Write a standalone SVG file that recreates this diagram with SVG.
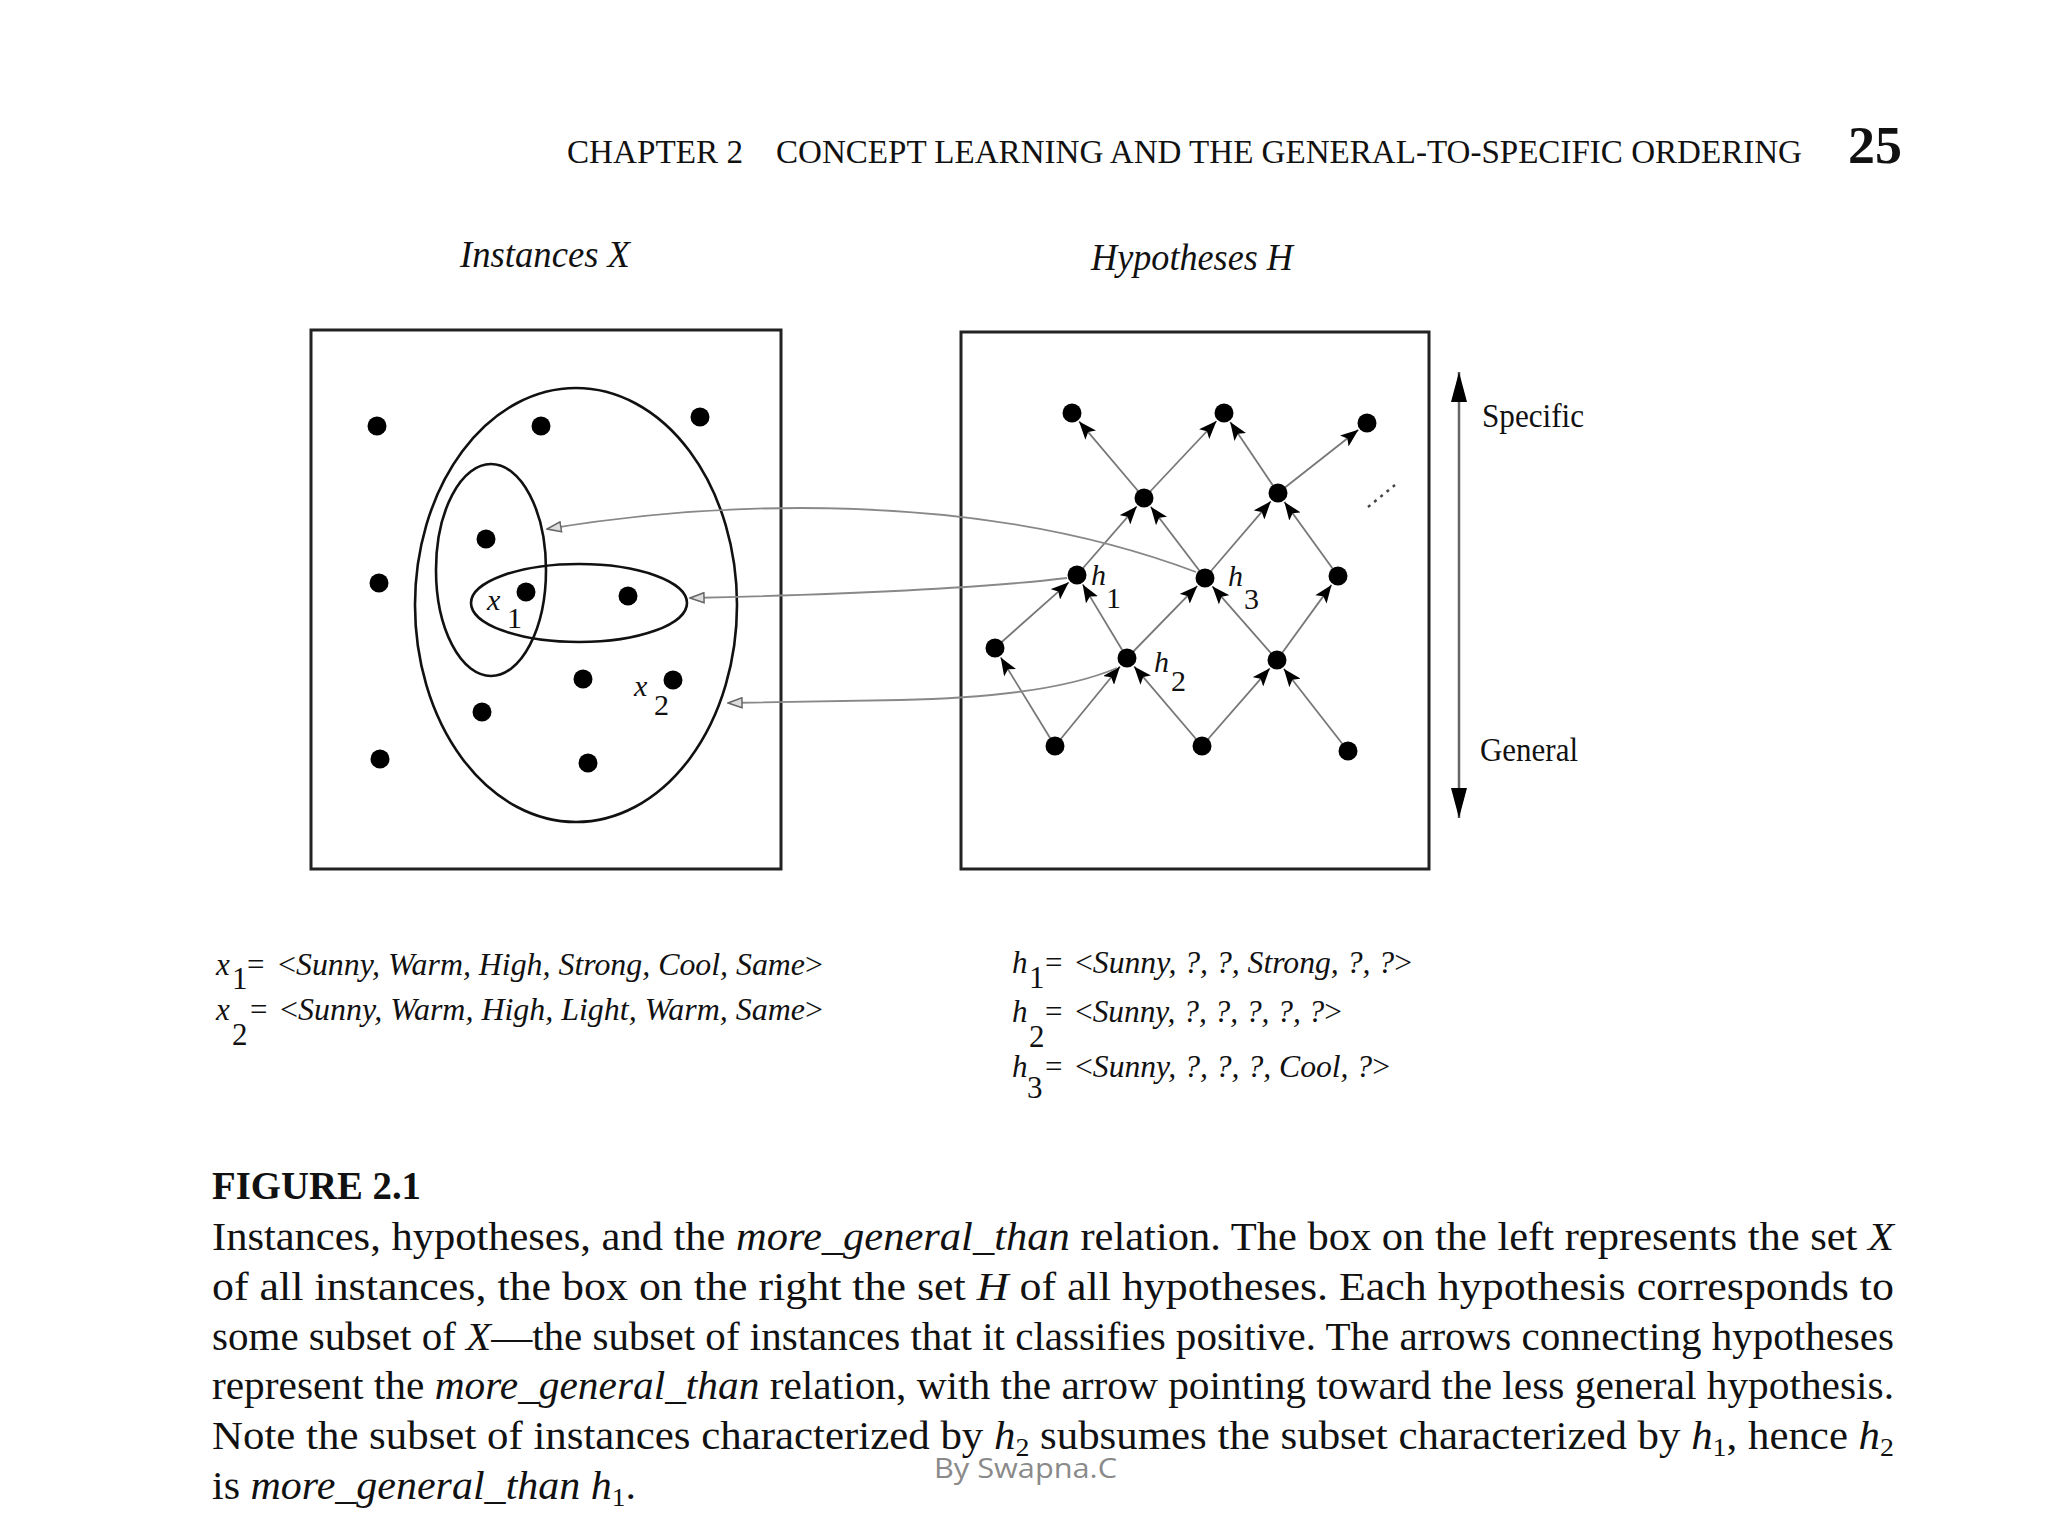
<svg xmlns="http://www.w3.org/2000/svg" width="2048" height="1536" viewBox="0 0 2048 1536">
<style>
.serif{font-family:"Liberation Serif","Times New Roman",serif;fill:#111}
.it{font-style:italic}
.box{fill:none;stroke:#222;stroke-width:3}
.ell{fill:none;stroke:#111;stroke-width:2.6}
.dot{fill:#000}
.edge{stroke:#777;stroke-width:1.8;fill:none;marker-end:url(#ah)}
.conn{stroke:#888;stroke-width:1.8;fill:none;marker-end:url(#cah)}
.lbl{font-family:"Liberation Serif","Times New Roman",serif;font-size:30px;fill:#111}
.def{font-family:"Liberation Serif","Times New Roman",serif;font-size:31px;fill:#111}
.cap{font-family:"Liberation Serif","Times New Roman",serif;font-size:40px;fill:#111}
</style>
<defs>
<marker id="ah" markerUnits="userSpaceOnUse" markerWidth="18" markerHeight="14" viewBox="0 0 18 14" refX="18" refY="7" orient="auto"><path d="M0,0 L18,7 L0,14 L4,7 z" fill="#000"/></marker>
<marker id="cah" markerUnits="userSpaceOnUse" markerWidth="16" markerHeight="12" viewBox="0 0 16 12" refX="15" refY="6" orient="auto"><path d="M1,1 L15,6 L1,11 z" fill="#ddd" stroke="#666" stroke-width="1.5"/></marker>
<marker id="vah" markerUnits="userSpaceOnUse" markerWidth="30" markerHeight="16" viewBox="0 0 30 16" refX="30" refY="8" orient="auto-start-reverse"><path d="M0,0 L30,8 L0,16 z" fill="#000"/></marker>
</defs>
<rect width="2048" height="1536" fill="#fff"/>

<g id="header">
<text class="serif" x="567" y="163" font-size="33" textLength="176" lengthAdjust="spacingAndGlyphs">CHAPTER 2</text>
<text class="serif" x="776" y="163" font-size="33" textLength="1026" lengthAdjust="spacingAndGlyphs">CONCEPT LEARNING AND THE GENERAL-TO-SPECIFIC ORDERING</text>
<text class="serif" x="1848" y="163" font-size="52" font-weight="bold" textLength="54" lengthAdjust="spacingAndGlyphs">25</text>
</g>

<g id="titles">
<text class="serif it" x="460" y="267" font-size="37" textLength="170" lengthAdjust="spacingAndGlyphs">Instances X</text>
<text class="serif it" x="1091" y="270" font-size="37" textLength="202" lengthAdjust="spacingAndGlyphs">Hypotheses H</text>
</g>

<g id="instances">
<rect class="box" x="311" y="330" width="470" height="539"/>
<ellipse id="set-h2" class="ell" cx="576" cy="605" rx="161" ry="217"/>
<ellipse id="set-h1" class="ell" cx="491" cy="570" rx="55" ry="106"/>
<ellipse id="set-h3" class="ell" cx="579" cy="603" rx="108" ry="39"/>
<g id="instance-dots">
<circle class="dot" cx="377" cy="426" r="9.5"/>
<circle class="dot" cx="541" cy="426" r="9.5"/>
<circle class="dot" cx="700" cy="417" r="9.5"/>
<circle class="dot" cx="379" cy="583" r="9.5"/>
<circle class="dot" cx="486" cy="539" r="9.5"/>
<circle class="dot" cx="628" cy="596" r="9.5"/>
<circle class="dot" cx="583" cy="679" r="9.5"/>
<circle class="dot" cx="482" cy="712" r="9.5"/>
<circle class="dot" cx="380" cy="759" r="9.5"/>
<circle class="dot" cx="588" cy="763" r="9.5"/>
</g>
<g id="x1"><circle class="dot" cx="526" cy="592" r="9.5"/><text class="lbl it" x="487" y="610" font-size="33">x</text><text class="lbl" x="507" y="628" font-size="28">1</text></g>
<g id="x2"><circle class="dot" cx="673" cy="680" r="9.5"/><text class="lbl it" x="634" y="696" font-size="33">x</text><text class="lbl" x="654" y="715" font-size="28">2</text></g>
</g>

<g id="hypotheses">
<rect class="box" x="961" y="332" width="468" height="537"/>
<path d="M1368,507 L1395,485" stroke="#444" stroke-width="2.5" stroke-dasharray="3,5" fill="none"/>
</g>

<g id="edges">
<line class="edge" x1="1144" y1="498" x2="1079.1" y2="421.4"/>
<line class="edge" x1="1144" y1="498" x2="1216.5" y2="421.0"/>
<line class="edge" x1="1278" y1="493" x2="1230.2" y2="422.1"/>
<line class="edge" x1="1278" y1="493" x2="1358.4" y2="429.8"/>
<line class="edge" x1="1077" y1="575" x2="1136.8" y2="506.3"/>
<line class="edge" x1="1205" y1="578" x2="1150.7" y2="506.7"/>
<line class="edge" x1="1205" y1="578" x2="1270.8" y2="501.3"/>
<line class="edge" x1="1338" y1="576" x2="1284.4" y2="501.9"/>
<line class="edge" x1="995" y1="648" x2="1068.8" y2="582.3"/>
<line class="edge" x1="1127" y1="658" x2="1082.7" y2="584.4"/>
<line class="edge" x1="1127" y1="658" x2="1197.3" y2="585.9"/>
<line class="edge" x1="1277" y1="660" x2="1212.3" y2="586.3"/>
<line class="edge" x1="1277" y1="660" x2="1331.5" y2="584.9"/>
<line class="edge" x1="1055" y1="746" x2="1000.7" y2="657.4"/>
<line class="edge" x1="1055" y1="746" x2="1120.0" y2="666.5"/>
<line class="edge" x1="1202" y1="746" x2="1134.1" y2="666.4"/>
<line class="edge" x1="1202" y1="746" x2="1269.8" y2="668.3"/>
<line class="edge" x1="1348" y1="751" x2="1283.8" y2="668.7"/>
</g>

<g id="connectors">
<path class="conn" d="M1196,572 C1090,532 960,508 800,508 C700,508 620,517 547,529"/>
<path class="conn" d="M1067,578 Q950,592 690,598"/>
<path class="conn" d="M1117,668 C1070,688 1000,698 900,700 L728,703"/>
</g>

<g id="node-a"><circle class="dot" cx="1072" cy="413" r="9.5"/></g>
<g id="node-b"><circle class="dot" cx="1224" cy="413" r="9.5"/></g>
<g id="node-c"><circle class="dot" cx="1367" cy="423" r="9.5"/></g>
<g id="node-d"><circle class="dot" cx="1144" cy="498" r="9.5"/></g>
<g id="node-e"><circle class="dot" cx="1278" cy="493" r="9.5"/></g>
<g id="node-h1"><circle class="dot" cx="1077" cy="575" r="9.5"/><text class="lbl it" x="1091" y="585" font-size="29">h</text><text class="lbl" x="1106" y="608" font-size="30">1</text></g>
<g id="node-h3"><circle class="dot" cx="1205" cy="578" r="9.5"/><text class="lbl it" x="1228" y="586" font-size="29">h</text><text class="lbl" x="1244" y="609" font-size="30">3</text></g>
<g id="node-h"><circle class="dot" cx="1338" cy="576" r="9.5"/></g>
<g id="node-i"><circle class="dot" cx="995" cy="648" r="9.5"/></g>
<g id="node-h2"><circle class="dot" cx="1127" cy="658" r="9.5"/><text class="lbl it" x="1154" y="672" font-size="29">h</text><text class="lbl" x="1171" y="691" font-size="30">2</text></g>
<g id="node-k"><circle class="dot" cx="1277" cy="660" r="9.5"/></g>
<g id="node-l"><circle class="dot" cx="1055" cy="746" r="9.5"/></g>
<g id="node-m"><circle class="dot" cx="1202" cy="746" r="9.5"/></g>
<g id="node-n"><circle class="dot" cx="1348" cy="751" r="9.5"/></g>

<g id="axis">
<line x1="1459" y1="372" x2="1459" y2="818" stroke="#666" stroke-width="2.5" marker-start="url(#vah)" marker-end="url(#vah)"/>
<text class="serif" x="1482" y="427" font-size="33" textLength="102" lengthAdjust="spacingAndGlyphs">Specific</text>
<text class="serif" x="1480" y="761" font-size="33" textLength="98" lengthAdjust="spacingAndGlyphs">General</text>
</g>

<g id="definitions">
<text class="def it" x="216" y="975">x</text><text class="def" x="232" y="989" font-size="28">1</text><text class="def" x="247" y="975">=</text>
<text class="def" x="278" y="975" textLength="545" lengthAdjust="spacingAndGlyphs">&lt;<tspan class="it">Sunny, Warm, High, Strong, Cool, Same</tspan>&gt;</text>
<text class="def it" x="216" y="1020">x</text><text class="def" x="232" y="1045" font-size="28">2</text><text class="def" x="250" y="1020">=</text>
<text class="def" x="280" y="1020" textLength="543" lengthAdjust="spacingAndGlyphs">&lt;<tspan class="it">Sunny, Warm, High, Light, Warm, Same</tspan>&gt;</text>

<text class="def it" x="1012" y="973">h</text><text class="def" x="1029" y="988" font-size="28">1</text><text class="def" x="1045" y="973">=</text>
<text class="def" x="1075" y="973" textLength="337" lengthAdjust="spacingAndGlyphs">&lt;<tspan class="it">Sunny, ?, ?, Strong, ?, ?</tspan>&gt;</text>
<text class="def it" x="1012" y="1022">h</text><text class="def" x="1029" y="1047" font-size="28">2</text><text class="def" x="1045" y="1022">=</text>
<text class="def" x="1075" y="1022" textLength="267" lengthAdjust="spacingAndGlyphs">&lt;<tspan class="it">Sunny, ?, ?, ?, ?, ?</tspan>&gt;</text>
<text class="def it" x="1012" y="1077">h</text><text class="def" x="1027" y="1098" font-size="28">3</text><text class="def" x="1045" y="1077">=</text>
<text class="def" x="1075" y="1077" textLength="315" lengthAdjust="spacingAndGlyphs">&lt;<tspan class="it">Sunny, ?, ?, ?, Cool, ?</tspan>&gt;</text>
</g>

<g id="caption">
<text class="cap" x="212" y="1199" font-weight="bold" textLength="209" lengthAdjust="spacingAndGlyphs">FIGURE 2.1</text>
<text class="cap" x="212" y="1250" textLength="1682" lengthAdjust="spacingAndGlyphs">Instances, hypotheses, and the <tspan class="it">more_general_than</tspan> relation. The box on the left represents the set <tspan class="it">X</tspan></text>
<text class="cap" x="212" y="1300" textLength="1682" lengthAdjust="spacingAndGlyphs">of all instances, the box on the right the set <tspan class="it">H</tspan> of all hypotheses. Each hypothesis corresponds to</text>
<text class="cap" x="212" y="1350" textLength="1682" lengthAdjust="spacingAndGlyphs">some subset of <tspan class="it">X</tspan>—the subset of instances that it classifies positive. The arrows connecting hypotheses</text>
<text class="cap" x="212" y="1399" textLength="1682" lengthAdjust="spacingAndGlyphs">represent the <tspan class="it">more_general_than</tspan> relation, with the arrow pointing toward the less general hypothesis.</text>
<text class="cap" x="212" y="1449" textLength="1682" lengthAdjust="spacingAndGlyphs">Note the subset of instances characterized by <tspan class="it">h</tspan><tspan font-size="26" dy="7">2</tspan><tspan dy="-7"> subsumes the subset characterized by </tspan><tspan class="it">h</tspan><tspan font-size="26" dy="7">1</tspan><tspan dy="-7">, hence </tspan><tspan class="it">h</tspan><tspan font-size="26" dy="7">2</tspan></text>
<text class="cap" x="212" y="1499" textLength="424" lengthAdjust="spacingAndGlyphs">is <tspan class="it">more_general_than</tspan> <tspan class="it">h</tspan><tspan font-size="26" dy="7">1</tspan><tspan dy="-7">.</tspan></text>
</g>

<g id="watermark">
<text x="934" y="1478" font-family="'Open Sans','Noto Sans',sans-serif" font-size="27" fill="#8a8a8a" textLength="183" lengthAdjust="spacingAndGlyphs">By  Swapna.C</text>
</g>
</svg>
